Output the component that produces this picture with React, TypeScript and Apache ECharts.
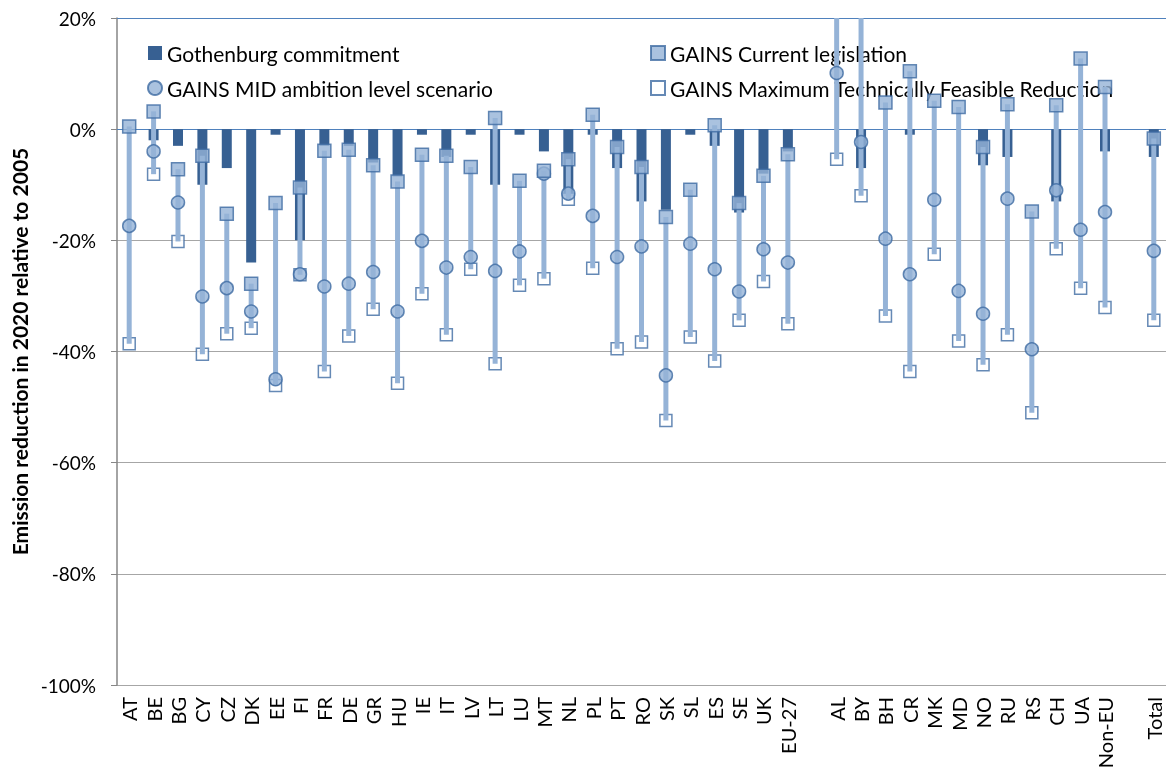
import React, { useEffect, useRef } from 'react';
import * as echarts from 'echarts';

const categories = ['AT','BE','BG','CY','CZ','DK','EE','FI','FR','DE','GR','HU','IE','IT','LV','LT','LU','MT','NL','PL','PT','RO','SK','SL','ES','SE','UK','EU-27',' ','AL','BY','BH','CR','MK','MD','NO','RU','RS','CH','UA','Non-EU','  ','Total'];

const gothenburg = [null,-2,-3,-10,-7,-24,-1,-20,-3,-3,-6,-8.5,-1,-5,-1,-10,-1,-4,-12,-1,-7,-13,-14.5,-1,-3,-15,-8,-4,null,null,-7,null,-1,null,null,-6.5,-5,null,-13,null,-4,null,-5];

const currentLegislation = [0.5,3.2,-7.2,-4.8,-15.2,-27.8,-13.3,-10.5,-3.9,-3.7,-6.5,-9.4,-4.6,-4.8,-6.8,2,-9.3,-7.5,-5.4,2.6,-3.2,-6.8,-15.8,-10.9,0.7,-13.3,-8.4,-4.5,null,30,28,4.8,10.4,5.1,4,-3.2,4.5,-14.8,4.3,12.7,7.6,null,-1.7];

const midAmbition = [-17.4,-4,-13.2,-30.1,-28.6,-32.8,-45,-26.1,-28.3,-27.8,-25.7,-32.8,-20.1,-24.9,-23,-25.5,-22,-8,-11.6,-15.6,-23,-21.1,-44.3,-20.6,-25.2,-29.2,-21.6,-24,null,10.1,-2.3,-19.7,-26.1,-12.7,-29.1,-33.2,-12.5,-39.6,-11,-18.1,-14.9,null,-21.9];

const maxFeasible = [-38.6,-8.1,-20.2,-40.5,-36.8,-35.8,-46.1,-26.2,-43.6,-37.2,-32.4,-45.7,-29.6,-37,-25.2,-42.2,-28.1,-26.9,-12.6,-25,-39.5,-38.3,-52.4,-37.4,-41.7,-34.4,-27.4,-35,null,-5.4,-12,-33.6,-43.6,-22.5,-38.1,-42.4,-37,-51,-21.5,-28.6,-32.1,null,-34.4];

const seriesNames = ['Gothenburg commitment','GAINS Current legislation','GAINS MID ambition level scenario','GAINS Maximum Technically Feasible Reduction'];

const FONT = 'Lato, "Open Sans", sans-serif';

export default function App() {
  const ref = useRef<HTMLDivElement>(null);
  useEffect(() => {
    const chart = echarts.init(ref.current!, null, { renderer: 'svg' });
    const rangeData: any[] = [];
    categories.forEach((_, i) => {
      const vals = [currentLegislation[i], midAmbition[i], maxFeasible[i]].filter((v) => v != null) as number[];
      if (vals.length) rangeData.push([i, Math.max(...vals), Math.min(...vals)]);
    });
    const lightBlue = '#95B3D7';
    const darkBlue = '#376092';
    const border = '#3E6BA3';
    chart.setOption({
      animation: false,
      textStyle: { fontFamily: FONT },
      grid: { left: 117, right: 0, top: 18, bottom: 88, containLabel: false },
      legend: [
        {
          left: 147, top: 41, orient: 'vertical', padding: 0, itemGap: 11,
          itemWidth: 14, itemHeight: 14, selectedMode: false,
          textStyle: { fontFamily: FONT, fontSize: 21, color: '#000', lineHeight: 24 },
          data: [{ name: seriesNames[0], icon: 'rect' }, { name: seriesNames[2], icon: 'circle' }],
        },
        {
          left: 650, top: 41, orient: 'vertical', padding: 0, itemGap: 11,
          itemWidth: 14, itemHeight: 14, selectedMode: false,
          textStyle: { fontFamily: FONT, fontSize: 21, color: '#000', lineHeight: 24 },
          data: [{ name: seriesNames[1], icon: 'rect' }, { name: seriesNames[3], icon: 'rect' }],
        },
      ],
      xAxis: [
        {
          type: 'category', data: categories, boundaryGap: true,
          axisLine: { lineStyle: { color: '#4F81BD', width: 1 } },
          axisTick: { show: false },
          axisLabel: { rotate: 90, interval: 0, fontSize: 20, color: '#000', margin: 12, fontFamily: FONT },
          splitLine: { show: false },
        },
        {
          type: 'category', data: categories, position: 'top', boundaryGap: true,
          axisLine: { lineStyle: { color: '#4F81BD', width: 1 } },
          axisTick: { show: false }, axisLabel: { show: false }, splitLine: { show: false },
        },
      ],
      yAxis: {
        type: 'value', min: -100, max: 20, interval: 20,
        name: 'Emission reduction in 2020 relative to 2005',
        nameLocation: 'middle', nameGap: 87,
        nameTextStyle: { fontFamily: FONT, fontWeight: 'bold', fontSize: 21, color: '#000' },
        axisLine: { show: true, lineStyle: { color: '#868686', width: 1.5 } },
        axisTick: { show: true, length: 6, lineStyle: { color: '#868686' } },
        axisLabel: { formatter: '{value}%', fontSize: 19, color: '#000', margin: 21, fontFamily: FONT },
        splitLine: { lineStyle: { color: '#A6A6A6', width: 1 } },
      },
      series: [
        {
          name: seriesNames[0], type: 'bar', data: gothenburg, barWidth: 10, z: 2,
          itemStyle: { color: darkBlue },
        },
        {
          name: seriesNames[3], type: 'scatter', data: maxFeasible, symbol: 'rect', symbolSize: 12, z: 3,
          itemStyle: { color: '#FFFFFF', borderColor: border, borderWidth: 1.5 },
        },
        {
          name: 'range', type: 'custom', data: rangeData, z: 4, clip: true,
          encode: { x: 0, y: [1, 2] },
          renderItem: (params: any, api: any) => {
            const x = api.value(0);
            const hi = api.coord([x, api.value(1)]);
            const lo = api.coord([x, api.value(2)]);
            return {
              type: 'line',
              shape: { x1: hi[0], y1: hi[1], x2: lo[0], y2: lo[1] },
              style: { stroke: lightBlue, lineWidth: 5 },
            };
          },
        },
        {
          name: seriesNames[2], type: 'scatter', data: midAmbition, symbol: 'circle', symbolSize: 13, z: 5,
          itemStyle: { color: lightBlue, borderColor: border, borderWidth: 1.5 },
        },
        {
          name: seriesNames[1], type: 'scatter', data: currentLegislation, symbol: 'rect', symbolSize: 13, z: 6,
          itemStyle: { color: lightBlue, borderColor: border, borderWidth: 1.5 },
        },
      ],
    });
    return () => chart.dispose();
  }, []);
  return <div ref={ref} style={{ position: 'fixed', left: 0, top: 0, width: 1166, height: 773 }} />;
}
